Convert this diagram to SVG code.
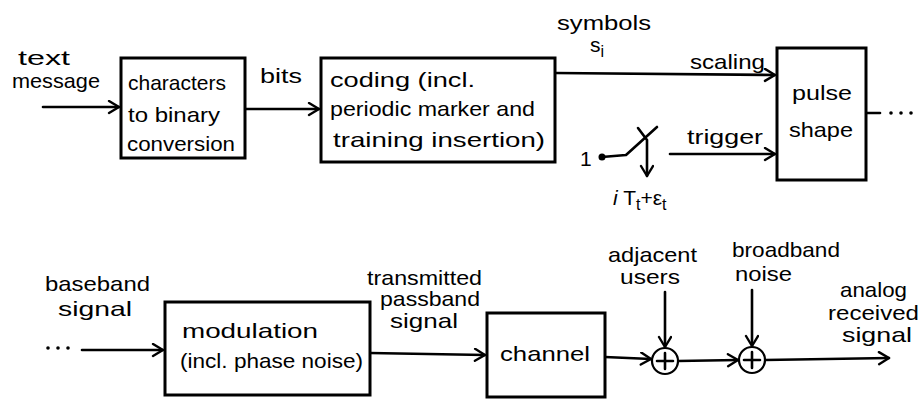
<svg xmlns="http://www.w3.org/2000/svg" width="921" height="400" viewBox="0 0 921 400">
<style>
text{font-family:"Liberation Sans","DejaVu Sans",sans-serif;font-size:21px;fill:#000}
.box{fill:#fff;stroke:#000;stroke-width:3}
.ln{fill:none;stroke:#000;stroke-width:2.6;stroke-linecap:round;stroke-linejoin:round}
.sum{fill:#fff;stroke:#000;stroke-width:2.2}
</style>
<defs>
<marker id="arr" markerUnits="userSpaceOnUse" markerWidth="16" markerHeight="16" refX="12" refY="7" orient="auto">
<path d="M2,1 L12,7 L2,13" fill="none" stroke="#000" stroke-width="2.4" stroke-linecap="round" stroke-linejoin="round"/>
</marker>
</defs>
<rect width="921" height="400" fill="#fff"/>

<g id="connectors">
<path class="ln" d="M43,107 L119,107" marker-end="url(#arr)"/>
<path class="ln" d="M245,109 L319,109" marker-end="url(#arr)"/>
<path class="ln" d="M555,73 L775,75" marker-end="url(#arr)"/>
<path class="ln" d="M670,154 L775,154" marker-end="url(#arr)"/>
<path class="ln" d="M866,113 L880,113"/>
<path class="ln" d="M82,350 L163,350" marker-end="url(#arr)"/>
<path class="ln" d="M370,353 L485,355" marker-end="url(#arr)"/>
<path class="ln" d="M605,357 L651,359" marker-end="url(#arr)"/>
<path class="ln" d="M678,361 L738,360" marker-end="url(#arr)"/>
<path class="ln" d="M765,360 L889,358" marker-end="url(#arr)"/>
<path class="ln" d="M665,292 L665,347" marker-end="url(#arr)"/>
<path class="ln" d="M752,290 L752,346" marker-end="url(#arr)"/>
</g>

<g id="input-text">
<text x="18" y="65" textLength="52" lengthAdjust="spacingAndGlyphs">text</text>
<text x="12" y="88" textLength="88" lengthAdjust="spacingAndGlyphs">message</text>
</g>

<g id="char2bin">
<rect class="box" x="121" y="58" width="124" height="100"/>
<text x="128" y="90" textLength="98" lengthAdjust="spacingAndGlyphs">characters</text>
<text x="128" y="122" textLength="92" lengthAdjust="spacingAndGlyphs">to binary</text>
<text x="127" y="151" textLength="108" lengthAdjust="spacingAndGlyphs">conversion</text>
</g>

<g id="bits-label"><text x="260" y="83" textLength="42" lengthAdjust="spacingAndGlyphs">bits</text></g>

<g id="coding">
<rect class="box" x="321" y="58" width="234" height="104"/>
<text x="330" y="87" textLength="145" lengthAdjust="spacingAndGlyphs">coding (incl.</text>
<text x="330" y="116" textLength="205" lengthAdjust="spacingAndGlyphs">periodic marker and</text>
<text x="333" y="147" textLength="212" lengthAdjust="spacingAndGlyphs">training insertion)</text>
</g>

<g id="symbols-label">
<text x="557" y="30" textLength="94" lengthAdjust="spacingAndGlyphs">symbols</text>
<text x="590" y="52" font-size="23">s<tspan font-size="16" dy="5">i</tspan></text>
<text x="690" y="69" textLength="75" lengthAdjust="spacingAndGlyphs">scaling</text>
</g>

<g id="trigger">
<text x="580" y="166" font-size="24">1</text>
<circle cx="602" cy="157" r="3.5" fill="#000"/>
<path class="ln" d="M602,157 L626,155 L657,127"/>
<path class="ln" d="M638,128 L647,140 L647,176" marker-end="url(#arr)"/>
<text x="613" y="205" font-size="22"><tspan font-style="italic">i</tspan> T<tspan font-size="16" dy="5">t</tspan><tspan dy="-5">+ε</tspan><tspan font-size="16" dy="5">t</tspan></text>
<text x="687" y="144" textLength="76" lengthAdjust="spacingAndGlyphs">trigger</text>
</g>

<g id="pulse-shape">
<rect class="box" x="777" y="48" width="89" height="132"/>
<text x="792" y="100" font-size="23" textLength="60" lengthAdjust="spacingAndGlyphs">pulse</text>
<text x="789" y="137" font-size="23" textLength="64" lengthAdjust="spacingAndGlyphs">shape</text>
<circle cx="891" cy="113" r="1.8" fill="#000"/>
<circle cx="901" cy="113" r="1.8" fill="#000"/>
<circle cx="911" cy="113" r="1.8" fill="#000"/>
</g>

<g id="baseband-label">
<text x="45" y="291" textLength="105" lengthAdjust="spacingAndGlyphs">baseband</text>
<text x="58" y="316" textLength="74" lengthAdjust="spacingAndGlyphs">signal</text>
<circle cx="48" cy="348" r="1.8" fill="#000"/>
<circle cx="58" cy="348" r="1.8" fill="#000"/>
<circle cx="68" cy="348" r="1.8" fill="#000"/>
</g>

<g id="modulation">
<rect class="box" x="165" y="302" width="205" height="93"/>
<text x="182" y="338" font-size="23" textLength="136" lengthAdjust="spacingAndGlyphs">modulation</text>
<text x="180" y="368" textLength="183" lengthAdjust="spacingAndGlyphs">(incl. phase noise)</text>
</g>

<g id="transmitted-label">
<text x="367" y="285" textLength="115" lengthAdjust="spacingAndGlyphs">transmitted</text>
<text x="380" y="306" textLength="100" lengthAdjust="spacingAndGlyphs">passband</text>
<text x="390" y="328" textLength="68" lengthAdjust="spacingAndGlyphs">signal</text>
</g>

<g id="channel">
<rect class="box" x="487" y="313" width="118" height="84"/>
<text x="500" y="361" font-size="23" textLength="90" lengthAdjust="spacingAndGlyphs">channel</text>
</g>

<g id="sum1">
<text x="608" y="262" textLength="89" lengthAdjust="spacingAndGlyphs">adjacent</text>
<text x="620" y="284" textLength="60" lengthAdjust="spacingAndGlyphs">users</text>
<circle class="sum" cx="665" cy="361" r="13"/>
<path class="ln" d="M665,353 L665,369 M657,361 L673,361" stroke-width="2"/>
</g>

<g id="sum2">
<text x="732" y="257" textLength="108" lengthAdjust="spacingAndGlyphs">broadband</text>
<text x="735" y="281" textLength="57" lengthAdjust="spacingAndGlyphs">noise</text>
<circle class="sum" cx="752" cy="360" r="13"/>
<path class="ln" d="M752,352 L752,368 M744,360 L760,360" stroke-width="2"/>
</g>

<g id="received-label">
<text x="840" y="297" textLength="67" lengthAdjust="spacingAndGlyphs">analog</text>
<text x="828" y="320" textLength="91" lengthAdjust="spacingAndGlyphs">received</text>
<text x="842" y="342" textLength="70" lengthAdjust="spacingAndGlyphs">signal</text>
</g>
</svg>
